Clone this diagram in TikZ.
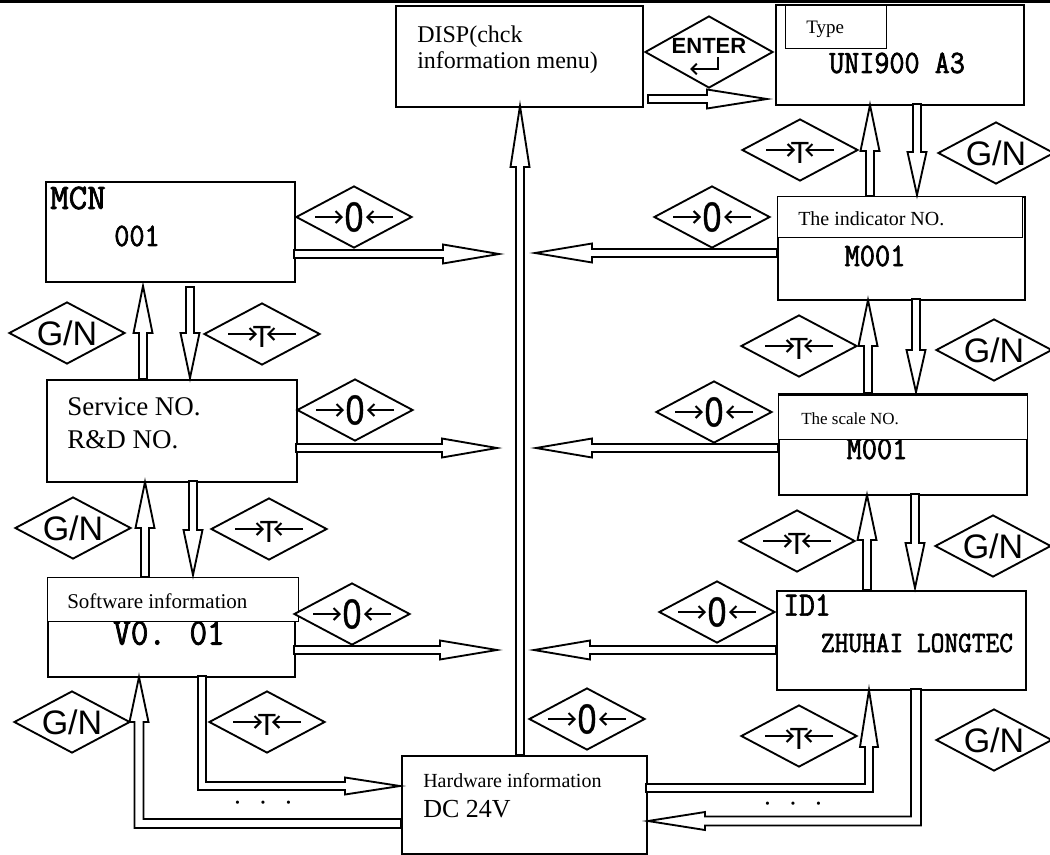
\documentclass[tikz,border=0pt]{standalone}
\usepackage{fontspec}
\setmainfont{Liberation Serif}
\newfontfamily\cmono[FakeStretch=0.9,FakeBold=2]{Latin Modern Mono}
\newfontfamily\pmono[FakeBold=2]{Latin Modern Mono}
\newfontfamily\keyfont{Liberation Sans}
\newfontfamily\zerofont[FakeStretch=0.8,FakeBold=1]{Liberation Sans}
\usetikzlibrary{shapes.geometric,arrows.meta,calc}

\tikzset{
 box/.style={draw, line width=1.6pt, fill=white, rectangle, inner sep=0pt, anchor=north west},
 hdr/.style={draw, line width=1.1pt, fill=white, rectangle, inner sep=0pt, anchor=north west},
 keyd/.style={draw, diamond, line width=1.4pt, inner sep=0pt, minimum width=87pt, minimum height=46.5pt, fill=white},
 blk/.style={draw, line width=1.4pt, fill=white, line join=miter},
 keyarr/.style={line width=1.5pt, -{Straight Barb[length=4.5pt,width=9pt]}},
 serif/.style={inner sep=0pt, anchor=base west},
 code/.style={inner sep=0pt, anchor=center},
}

\newcommand\gnkey[2]{%
 \node[keyd] (#1) at (#2) {};
 \node[code, font=\keyfont\fontsize{25.5pt}{26pt}\selectfont] at (#1) {G/N};}
\newcommand\tkey[2]{%
 \node[keyd] (#1) at (#2) {};
 \node[code, font=\keyfont\fontsize{23pt}{24pt}\selectfont] at ($(#1)+(0,3)$) {T};
 \draw[keyarr] ($(#1)+(-34,0)$) -- ($(#1)+(-5,0)$);
 \draw[keyarr] ($(#1)+(34,0)$) -- ($(#1)+(5,0)$);}
\newcommand\zkey[2]{%
 \node[keyd] (#1) at (#2) {};
 \node[code, font=\zerofont\fontsize{31.5pt}{32pt}\selectfont] at (#1) {0};
 \draw[keyarr] ($(#1)+(-39,0)$) -- ($(#1)+(-11,0)$);
 \draw[keyarr] ($(#1)+(39,0)$) -- ($(#1)+(12,0)$);}

\newcommand\hblk[4][56]{%
 \pgfmathsetmacro\hbx{#3-#1*sign(#3-#2)}%
 \draw[blk] (#2,#4-4) -- (\hbx,#4-4) -- (\hbx,#4-9.5) -- (#3,#4) -- (\hbx,#4+9.5) -- (\hbx,#4+4) -- (#2,#4+4) -- cycle;}
\newcommand\vblk[4][45]{%
 \pgfmathsetmacro\hby{#4-#1*sign(#4-#3)}%
 \draw[blk] (#2-4,#3) -- (#2-4,\hby) -- (#2-9.5,\hby) -- (#2,#4) -- (#2+9.5,\hby) -- (#2+4,\hby) -- (#2+4,#3) -- cycle;}

\begin{document}
\begin{tikzpicture}[x=0.75pt, y=-0.75pt]
\useasboundingbox (0,0) rectangle (1050,854);
\fill[white] (0,0) rectangle (1050,854);
\draw[line width=2.2pt] (0,1.5) -- (1050,1.5);

% ---------- boxes ----------
\node[box, minimum width=185.25pt, minimum height=75.75pt] (disp) at (395,5) {};
\node[serif, font=\fontsize{18pt}{20pt}\selectfont] (disp1) at (417,42) {DISP(chck};
\node[serif, font=\fontsize{18pt}{20pt}\selectfont] (disp2) at (417,68) {information menu)};

\node[box, minimum width=186pt, minimum height=75pt] (type) at (775,4) {};
\node[code, font=\cmono\fontsize{24.4pt}{26pt}\selectfont] (typev) at (897,63) {UNI900 A3};
\node[hdr, minimum width=75.75pt, minimum height=32.25pt] (typeh) at (785,5) {};
\node[serif, font=\fontsize{14.25pt}{16pt}\selectfont] (typet) at (806,33) {Type};

\node[box, minimum width=185.25pt, minimum height=77.25pt] (ind) at (777,196) {};
\node[code, font=\cmono\fontsize{24.6pt}{26pt}\selectfont] (indv) at (875,256) {M001};
\node[hdr, minimum width=183.75pt, minimum height=30.75pt] (indh) at (777,196) {};
\node[serif, font=\fontsize{15pt}{17pt}\selectfont] (indt) at (798,225) {The indicator NO.};

\node[box, minimum width=186pt, minimum height=75.75pt] (scale) at (778,393) {};
\node[code, font=\cmono\fontsize{24.6pt}{26pt}\selectfont] (scalev) at (877,449) {M001};
\node[hdr, minimum width=186.75pt, minimum height=33pt] (scaleh) at (778,395) {};
\node[serif, font=\fontsize{12.75pt}{14pt}\selectfont] (scalet) at (801,424) {The scale NO.};

\node[box, minimum width=186.75pt, minimum height=74.25pt] (id) at (776,590) {};
\node[code, font=\cmono\fontsize{25.5pt}{27pt}\selectfont] (idt) at (807,605) {ID1};
\node[code, font=\cmono\fontsize{22.2pt}{24pt}\selectfont] (idv) at (917,643) {ZHUHAI LONGTEC};

\node[box, minimum width=186.75pt, minimum height=75pt] (mcn) at (45,181) {};
\node[code, font=\pmono\fontsize{27pt}{28pt}\selectfont] (mcnt) at (78,198) {MCN};
\node[code, font=\cmono\fontsize{24.5pt}{26pt}\selectfont] (mcnv) at (137,236) {001};

\node[box, minimum width=187.5pt, minimum height=76.5pt] (svc) at (46,379) {};
\node[serif, font=\fontsize{20.25pt}{22pt}\selectfont] (svc1) at (67,415) {Service NO.};
\node[serif, font=\fontsize{20.25pt}{22pt}\selectfont] (svc2) at (67,448) {R\&D NO.};

\node[box, minimum width=185.25pt, minimum height=74.25pt] (sw) at (47,577) {};
\node[code, font=\cmono\fontsize{28.5pt}{30pt}\selectfont] (swv) at (169,633) {V0. 01};
\node[hdr, minimum width=188.25pt, minimum height=33pt] (swh) at (47,577) {};
\node[serif, font=\fontsize{15.75pt}{17pt}\selectfont] (swt) at (67,608) {Software information};

\node[box, minimum width=183.75pt, minimum height=73.5pt] (hw) at (401,755) {};
\node[serif, font=\fontsize{15pt}{17pt}\selectfont] (hw1) at (423,787) {Hardware information};
\node[serif, font=\fontsize{19.5pt}{21pt}\selectfont] (hw2) at (423,817) {DC 24V};

% ---------- ENTER key ----------
\node[keyd, minimum width=96pt, minimum height=54pt] (enter) at (709,52) {};
\node[code, font=\keyfont\bfseries\fontsize{16.5pt}{18pt}\selectfont] (entert) at ($(enter)+(0,-6)$) {ENTER};
\draw[line width=1.5pt, -{Straight Barb[length=4pt,width=8pt]}] ($(enter)+(9,5)$) -- ($(enter)+(9,17)$) -- ($(enter)+(-19,17)$);
\hblk[60]{648}{767}{99}

% ---------- right column arrows ----------
\vblk[43]{917}{104}{195}
\vblk[46]{870}{196}{105}
\tkey{tk1}{800,150}
\gnkey{gk1}{996,153}

\vblk[46]{868}{393}{300}
\vblk[42]{916}{299}{392}
\tkey{tk2}{799,346}
\gnkey{gk2}{994,350}

\vblk[45]{867}{590}{495}
\vblk[45]{915}{494}{588}
\tkey{tk3}{797,541}
\gnkey{gk3}{993,546}

% ---------- left column arrows ----------
\vblk[47]{143}{379}{286}
\vblk[45]{190}{287}{378}
\gnkey{gk4}{67,333}
\tkey{tk4}{262,334}

\vblk[46]{145}{577}{482}
\vblk[45]{193}{481}{575}
\gnkey{gk5}{73,528}
\tkey{tk5}{269,529}

% ---------- horizontal arrows to centre ----------
\hblk[56]{294}{499}{254}
\hblk[57]{777}{535}{253}
\zkey{zk1}{354,217}
\zkey{zk2}{712,217}

\hblk[55]{296}{497}{448}
\hblk[56]{778}{536}{448}
\zkey{zk3}{355,410}
\zkey{zk4}{714,412}

\hblk[57]{294}{497}{650}
\hblk[56]{776}{534}{650}
\zkey{zk5}{352,614}
\zkey{zk6}{717,612}

% ---------- centre ----------
\vblk[61]{520}{755}{106}
\zkey{zk7}{587,719}

% ---------- bottom elbow arrows ----------
\draw[blk] (198,676) -- (198,790) -- (345,790) -- (345,794.5) -- (400,786) -- (345,777.5) -- (345,782) -- (206,782) -- (206,676) -- cycle;
\draw[blk] (401,819) -- (143.5,819) -- (143.5,722) -- (148.5,722) -- (139,677) -- (129.5,722) -- (134.5,722) -- (134.5,828) -- (401,828) -- cycle;
\draw[blk] (646,784) -- (865,784) -- (865,747) -- (860,747) -- (869,690) -- (878,747) -- (873,747) -- (873,792) -- (646,792) -- cycle;
\draw[blk] (911,689) -- (911,816.5) -- (705,816.5) -- (705,812) -- (648,821) -- (705,830) -- (705,825.5) -- (921,825.5) -- (921,689) -- cycle;
\gnkey{gk6}{72,722}
\tkey{tk6}{267,722}
\tkey{tk7}{799,736}
\gnkey{gk7}{994,740}

\node[code, font=\fontsize{20pt}{20pt}\selectfont] (dots1) at (263,806) {·\hspace{12.5pt}·\hspace{12.5pt}·};
\node[code, font=\fontsize{20pt}{20pt}\selectfont] (dots2) at (793,807) {·\hspace{12.5pt}·\hspace{12.5pt}·};
\end{tikzpicture}
\end{document}
